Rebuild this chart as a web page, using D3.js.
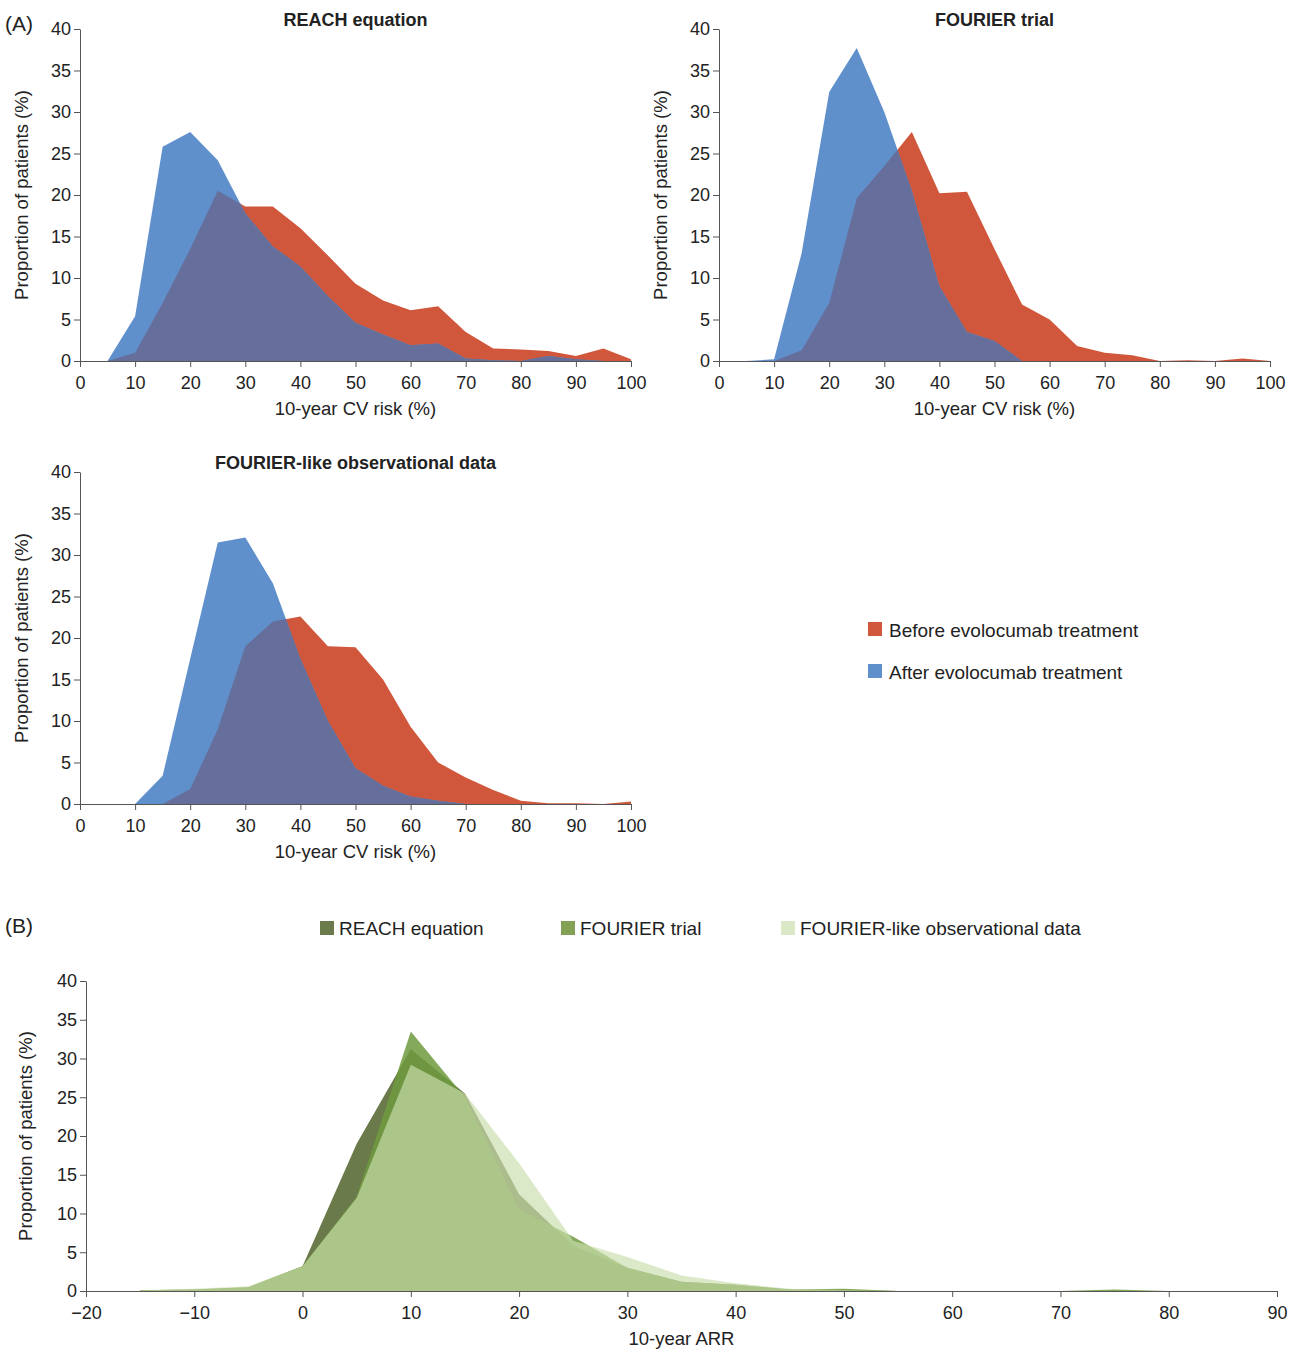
<!DOCTYPE html><html><head><meta charset="utf-8"><script src="https://cdn.jsdelivr.net/npm/d3@7"></script>
<style>body{margin:0;background:#fff;font-family:Arial,"Liberation Sans",sans-serif}</style></head><body><svg id="c" width="1300" height="1352"></svg>
<script>
const xA = d3.range(0,101,5);
const reachBefore=[0,0,1,7,13.5,20.5,18.6,18.6,16,12.7,9.3,7.3,6.1,6.6,3.5,1.5,1.4,1.2,0.6,1.5,0.2];
const reachAfter=[0,0,5.4,25.8,27.6,24.2,17.8,13.8,11.4,7.8,4.6,3.2,1.9,2.1,0.3,0.1,0,0.6,0.2,0,0];
const fourierBefore=[0,0,0,1.3,7,19.6,23.5,27.6,20.2,20.4,13.5,6.8,5,1.8,1,0.7,0,0.1,0,0.3,0];
const fourierAfter=[0,0,0.2,13,32.4,37.7,30,20.5,9,3.5,2.4,0,0,0,0,0,0,0,0,0,0];
const obsBefore=[0,0,0,0,1.8,9,19,22,22.6,19,18.9,15,9.3,5,3.2,1.7,0.4,0.1,0.1,0,0.3];
const obsAfter=[0,0,0,3.4,17.5,31.5,32.1,26.6,17.5,10,4.3,2.2,0.9,0.4,0,0,0,0,0,0,0];
const xB=d3.range(-15,81,5);
const arrReach=[0.1,0.2,0.5,3.2,19,31.2,25.5,12.5,5.8,3,1.2,0.8,0.2,0.1,0,0,0,0,0,0];
const arrFourier=[0.1,0.2,0.5,3.2,12.2,33.5,25,10.5,7,3,1.2,0.8,0.2,0.3,0,0,0,0,0.2,0];
const arrObs=[0.1,0.3,0.6,3.2,12,29.2,25.5,16.5,6.5,4.4,2,1,0.3,0.1,0,0,0,0,0,0];
const yTicks=d3.range(0,41,5);

const svg=d3.select("#c");
const RED="#d1573c",BLUE="#6090cc",MIX="#666f9b";
function minPts(xs,a,b){
  const out=[];
  for(let i=0;i<xs.length;i++){
    out.push([xs[i],Math.min(a[i],b[i])]);
    if(i<xs.length-1){
      const d0=a[i]-b[i],d1=a[i+1]-b[i+1];
      if(d0*d1<0){const t=d0/(d0-d1);out.push([xs[i]+t*(xs[i+1]-xs[i]),a[i]+t*(a[i+1]-a[i])]);}
    }
  }
  return out;
}
function panelA(x0,y0,title,before,after){
  const x=d3.scaleLinear([0,100],[x0,x0+551]);
  const y=d3.scaleLinear([0,40],[y0+332,y0]);
  const g=svg.append("g");
  const ar=d3.area().x((d,i)=>x(xA[i])).y0(y(0)).y1(d=>y(d));
  g.append("path").attr("d",ar(before)).attr("fill",RED);
  g.append("path").attr("d",ar(after)).attr("fill",BLUE);
  const arm=d3.area().x(d=>x(d[0])).y0(y(0)).y1(d=>y(d[1]));
  g.append("path").attr("d",arm(minPts(xA,before,after))).attr("fill",MIX);
  const xa=g.append("g").attr("transform",`translate(0,${y(0)})`).call(d3.axisBottom(x).tickValues(d3.range(0,101,10)).tickSize(6).tickSizeOuter(0));
  const ya=g.append("g").attr("transform",`translate(${x0},0)`).call(d3.axisLeft(y).tickValues(yTicks).tickSize(6).tickSizeOuter(0));
  [xa,ya].forEach(a=>{a.selectAll("text").attr("font-size",18).attr("fill","#222");a.selectAll("line,path").attr("stroke","#555");});
  xa.selectAll("text").attr("dy","1.05em");
  g.append("text").attr("x",x(50)).attr("y",y0+54+332).attr("text-anchor","middle").attr("font-size",18.5).attr("fill","#222").text("10-year CV risk (%)");
  g.append("text").attr("transform",`translate(${x0-52},${y(20)}) rotate(-90)`).attr("text-anchor","middle").attr("font-size",18.5).attr("fill","#222").text("Proportion of patients (%)");
  g.append("text").attr("x",x(50)).attr("y",y0-3).attr("text-anchor","middle").attr("font-size",18).attr("font-weight","bold").attr("fill","#222").text(title);
}
panelA(80,29,"REACH equation",reachBefore,reachAfter);
panelA(719,29,"FOURIER trial",fourierBefore,fourierAfter);
panelA(80,472,"FOURIER-like observational data",obsBefore,obsAfter);
svg.append("text").attr("x",5).attr("y",31).attr("font-size",21).attr("fill","#222").text("(A)");
svg.append("text").attr("x",5).attr("y",933).attr("font-size",21).attr("fill","#222").text("(B)");
[[RED,"Before evolocumab treatment",630],[BLUE,"After evolocumab treatment",672]].forEach(([c,t,yy])=>{
  svg.append("rect").attr("x",868).attr("y",yy-8).attr("width",14).attr("height",14).attr("fill",c);
  svg.append("text").attr("x",889).attr("y",yy+7).attr("font-size",19).attr("fill","#222").text(t);
});
// Panel B
const xb=d3.scaleLinear([-20,90],[86,1277]);
const yb=d3.scaleLinear([0,40],[1291,981]);
const arB=d3.area().x((d,i)=>xb(xB[i])).y0(yb(0)).y1(d=>yb(d));
svg.append("path").attr("d",arB(arrReach)).attr("fill","#6b7a4a");
svg.append("path").attr("d",arB(arrFourier)).attr("fill","#6f9a3e").attr("fill-opacity",0.85);
svg.append("path").attr("d",arB(arrObs)).attr("fill","#cbdead").attr("fill-opacity",0.67);
const xba=svg.append("g").attr("transform",`translate(0,${yb(0)})`).call(d3.axisBottom(xb).tickValues(d3.range(-20,91,10)).tickFormat(d=>d<0?"\u2212"+(-d):d).tickSize(6).tickSizeOuter(0));
const yba=svg.append("g").attr("transform",`translate(86,0)`).call(d3.axisLeft(yb).tickValues(yTicks).tickSize(6).tickSizeOuter(0));
[xba,yba].forEach(a=>{a.selectAll("text").attr("font-size",18).attr("fill","#222");a.selectAll("line,path").attr("stroke","#555");});
xba.selectAll("text").attr("dy","1.05em");
svg.append("text").attr("x",xb(35)).attr("y",1345).attr("text-anchor","middle").attr("font-size",18.5).attr("fill","#222").text("10-year ARR");
svg.append("text").attr("transform",`translate(32,${yb(20)}) rotate(-90)`).attr("text-anchor","middle").attr("font-size",18.5).attr("fill","#222").text("Proportion of patients (%)");
[["#6b7a4a","REACH equation",320],["#84a057","FOURIER trial",561],["#dbe8c8","FOURIER-like observational data",781]].forEach(([c,t,xx])=>{
  svg.append("rect").attr("x",xx).attr("y",921).attr("width",14).attr("height",14).attr("fill",c);
  svg.append("text").attr("x",xx+19).attr("y",935).attr("font-size",19).attr("fill","#222").text(t);
});
</script></body></html>
